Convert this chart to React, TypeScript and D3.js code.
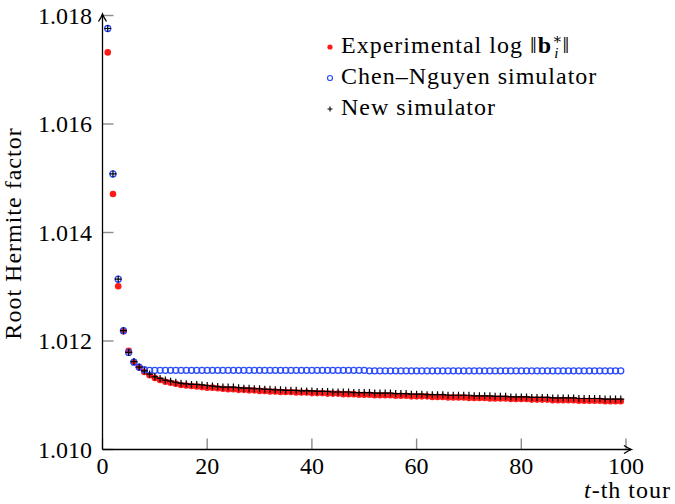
import React from "react";
import * as d3 from "d3";

const tours: number[] = Array.from({ length: 99 }, (_, i) => i + 1);

const experimental: number[] = [
  1.01732, 1.01471, 1.01301, 1.01218, 1.01182, 1.01161, 1.01151, 1.01143, 1.01137, 1.01132,
  1.01128, 1.01125, 1.01123, 1.01121, 1.01119, 1.01118, 1.01117, 1.01116, 1.01115, 1.01114,
  1.01114, 1.01113, 1.01112, 1.01111, 1.01111, 1.0111, 1.0111, 1.01109, 1.01109, 1.01108,
  1.01108, 1.01107, 1.01107, 1.01106, 1.01106, 1.01106, 1.01105, 1.01105, 1.01105, 1.01104,
  1.01104, 1.01104, 1.01103, 1.01103, 1.01103, 1.01102, 1.01102, 1.01102, 1.01101, 1.01101,
  1.01101, 1.011, 1.011, 1.011, 1.011, 1.01099, 1.01099, 1.01099, 1.01098, 1.01098,
  1.01098, 1.01098, 1.01097, 1.01097, 1.01097, 1.01096, 1.01096, 1.01096, 1.01096, 1.01095,
  1.01095, 1.01095, 1.01095, 1.01094, 1.01094, 1.01094, 1.01094, 1.01093, 1.01093, 1.01093,
  1.01093, 1.01092, 1.01092, 1.01092, 1.01092, 1.01091, 1.01091, 1.01091, 1.01091, 1.01091,
  1.0109, 1.0109, 1.0109, 1.0109, 1.0109, 1.01089, 1.01089, 1.01089, 1.01089,
];

const chenNguyen: number[] = [
  1.01776, 1.01508, 1.01314, 1.01219, 1.01179, 1.01161, 1.01152, 1.01147, 1.01146, 1.01146,
  1.01146, 1.01146, 1.01146, 1.01146, 1.01146, 1.01146, 1.01146, 1.01146, 1.01146, 1.01146,
  1.01146, 1.01146, 1.01146, 1.01146, 1.01146, 1.01146, 1.01146, 1.01146, 1.01146, 1.01146,
  1.01146, 1.01146, 1.01146, 1.01146, 1.01146, 1.01146, 1.01146, 1.01146, 1.01146, 1.01146,
  1.01146, 1.01146, 1.01146, 1.01146, 1.01146, 1.01146, 1.01146, 1.01146, 1.01146, 1.01146,
  1.01145, 1.01145, 1.01145, 1.01145, 1.01145, 1.01145, 1.01145, 1.01145, 1.01145, 1.01145,
  1.01145, 1.01145, 1.01145, 1.01145, 1.01145, 1.01145, 1.01145, 1.01145, 1.01145, 1.01145,
  1.01145, 1.01145, 1.01145, 1.01145, 1.01145, 1.01145, 1.01145, 1.01145, 1.01145, 1.01145,
  1.01145, 1.01145, 1.01145, 1.01145, 1.01145, 1.01145, 1.01145, 1.01145, 1.01145, 1.01145,
  1.01145, 1.01145, 1.01145, 1.01145, 1.01145, 1.01145, 1.01145, 1.01145, 1.01145,
];

const newSimulator: number[] = [
  1.01776, 1.01508, 1.01314, 1.01219, 1.01179, 1.01162, 1.01152, 1.01145, 1.01139, 1.01134,
  1.01131, 1.01128, 1.01126, 1.01124, 1.01122, 1.01121, 1.0112, 1.0112, 1.01119, 1.01118,
  1.01117, 1.01116, 1.01115, 1.01115, 1.01115, 1.01114, 1.01113, 1.01113, 1.01112, 1.01112,
  1.01111, 1.01111, 1.0111, 1.0111, 1.01109, 1.01109, 1.01109, 1.01108, 1.01108, 1.01108,
  1.01107, 1.01107, 1.01107, 1.01106, 1.01106, 1.01106, 1.01106, 1.01105, 1.01105, 1.01105,
  1.01105, 1.01104, 1.01104, 1.01104, 1.01104, 1.01103, 1.01103, 1.01103, 1.01102, 1.01102,
  1.01102, 1.01101, 1.01101, 1.01101, 1.01101, 1.011, 1.011, 1.011, 1.011, 1.011,
  1.01099, 1.01099, 1.01099, 1.01099, 1.01098, 1.01098, 1.01098, 1.01097, 1.01097, 1.01097,
  1.01097, 1.01096, 1.01096, 1.01096, 1.01096, 1.01095, 1.01095, 1.01095, 1.01095, 1.01095,
  1.01094, 1.01094, 1.01094, 1.01094, 1.01094, 1.01093, 1.01093, 1.01093, 1.01093,
];

const xTicks: number[] = [0, 20, 40, 60, 80, 100];
const yTicks: number[] = [1.01, 1.012, 1.014, 1.016, 1.018];

const FONT = "'Liberation Serif', 'DejaVu Serif', serif";

export default function App() {
  const W = 675;
  const H = 504;
  const x = d3.scaleLinear().domain([0, 100]).range([102.5, 626]);
  const y = d3.scaleLinear().domain([1.01, 1.018]).range([449.5, 15.5]);
  const x0 = x(0);
  const y0 = y(1.01);
  const RED = "#ff1a1a";
  const BLUE = "#2a4bff";
  const plus = (cx: number, cy: number, s: number) =>
    `M${cx - s},${cy}H${cx + s}M${cx},${cy - s}V${cy + s}`;
  const ts = { fontFamily: FONT, fontSize: "24px" } as React.CSSProperties;
  const tsL = { ...ts, letterSpacing: "1px" } as React.CSSProperties;

  return (
    <svg
      width={W}
      height={H}
      style={{ position: "absolute", left: 0, top: 0, background: "#fff" }}
    >
      {/* ticks */}
      {yTicks.map((t) => (
        <line key={"yt" + t} x1={x0} x2={x0 + 11} y1={y(t)} y2={y(t)} stroke="#8c8c8c" strokeWidth={1.4} />
      ))}
      {xTicks.map((t) => (
        <line key={"xt" + t} x1={x(t)} x2={x(t)} y1={y0} y2={y0 - 11} stroke="#8c8c8c" strokeWidth={1.4} />
      ))}
      {/* tick labels */}
      {yTicks.map((t) => (
        <text key={"yl" + t} x={92} y={y(t) + 8} style={ts} textAnchor="end">
          {d3.format(".3f")(t)}
        </text>
      ))}
      {xTicks.map((t) => (
        <text key={"xl" + t} x={x(t)} y={474} style={ts} textAnchor="middle">
          {t}
        </text>
      ))}
      {/* data */}
      <g>
        {tours.map((t, i) => (
          <circle key={"r" + t} cx={x(t)} cy={y(experimental[i])} r={3.3} fill={RED} />
        ))}
      </g>
      <g>
        {tours.map((t, i) => (
          <circle key={"b" + t} cx={x(t)} cy={y(chenNguyen[i])} r={3} fill="none" stroke={BLUE} strokeWidth={1.3} />
        ))}
      </g>
      <g>
        {tours.map((t, i) => (
          <path key={"k" + t} d={plus(x(t), y(newSimulator[i]), 3.5)} stroke="#000" strokeWidth={1.2} fill="none" />
        ))}
      </g>
      {/* axes */}
      <line x1={x0} x2={x0} y1={y0} y2={14.5} stroke="#000" strokeWidth={1.3} />
      <line x1={x0} x2={631} y1={y0} y2={y0} stroke="#000" strokeWidth={1.3} />
      <path
        d={`M${x0 - 4},${21.5} Q${x0 - 1},${17} ${x0},${14} Q${x0 + 1},${17} ${x0 + 4},${21.5}`}
        stroke="#000"
        strokeWidth={1.3}
        fill="none"
      />
      <path
        d={`M${624},${y0 - 4} Q${628.5},${y0 - 1} ${631.5},${y0} Q${628.5},${y0 + 1} ${624},${y0 + 4}`}
        stroke="#000"
        strokeWidth={1.3}
        fill="none"
      />
      {/* axis labels */}
      <text x={671} y={498} style={tsL} textAnchor="end">
        <tspan fontStyle="italic">t</tspan>-th tour
      </text>
      <text
        transform={`translate(21,${233.5}) rotate(-90)`}
        style={tsL}
        textAnchor="middle"
      >
        Root Hermite factor
      </text>
      {/* legend */}
      <circle cx={330} cy={47} r={2.6} fill={RED} />
      <circle cx={330} cy={78} r={2.5} fill="none" stroke={BLUE} strokeWidth={1.2} />
      <path d={plus(330, 109, 2.5)} stroke="#000" strokeWidth={1.1} fill="none" />
      <text x={341} y={53} style={tsL}>
        Experimental log ‖<tspan fontWeight="bold">b</tspan>
        <tspan fontSize={15} dy={-9}>∗</tspan>
        <tspan fontSize={15} fontStyle="italic" dx={-9} dy={14}>i</tspan>
        <tspan dy={-5} dx={3}>‖</tspan>
      </text>
      <text x={341} y={84} style={tsL}>
        Chen–Nguyen simulator
      </text>
      <text x={341} y={115} style={tsL}>
        New simulator
      </text>
    </svg>
  );
}
